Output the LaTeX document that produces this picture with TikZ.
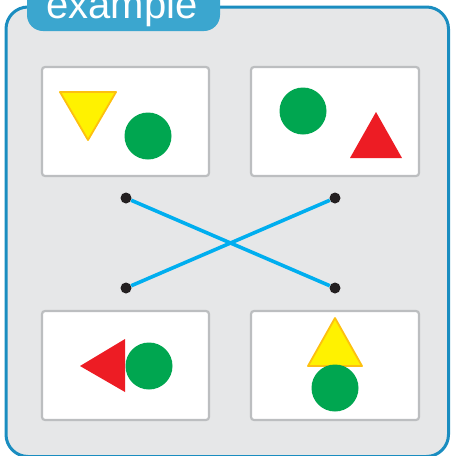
\documentclass[tikz,border=0pt]{standalone}
\usepackage{fontspec}
\setmainfont{Liberation Sans}
\definecolor{panelfill}{HTML}{E6E7E8}
\definecolor{panelline}{HTML}{1A8DC0}
\definecolor{tabfill}{HTML}{3BA6CF}
\definecolor{cardline}{HTML}{BCBEC0}
\definecolor{shgreen}{HTML}{00A650}
\definecolor{shred}{HTML}{ED1C24}
\definecolor{shyellow}{HTML}{FFF200}
\definecolor{shyellowline}{HTML}{FDC010}
\definecolor{linkblue}{HTML}{00AEEF}
\definecolor{dotblack}{HTML}{231F20}
\tikzset{
  card/.style={draw=cardline, line width=2.2pt, fill=white, rounded corners=3pt,
    minimum width=167pt, minimum height=109pt, inner sep=0pt},
  dotnode/.style={circle, fill=dotblack, minimum size=11pt, inner sep=0pt},
  link/.style={draw=linkblue, line width=3.6pt},
  greendisc/.style={fill=shgreen},
  redtri/.style={fill=shred},
  yellowtri/.style={fill=shyellow, draw=shyellowline, line width=1.8pt, line join=round},
}
\begin{document}
\begin{tikzpicture}[x=1pt,y=-1pt]
\useasboundingbox (0,0) rectangle (451,456);
\begin{scope}
\clip (0,0) rectangle (451,456);
\draw[fill=panelfill, draw=panelline, line width=3pt, rounded corners=22pt] (6,7) rectangle (448.5,456.5);
\fill[tabfill, rounded corners=16pt] (27,-30) rectangle (220,31);
\node[anchor=base, text=white, font=\fontsize{40}{48}\selectfont, inner sep=0pt] (title) at (122,18) {example};
\end{scope}
% cards
\node[card] (b1) at (125.5,121.5) {};
\node[card, minimum width=168pt] (b2) at (335,121.5) {};
\node[card] (b3) at (125.5,365.5) {};
\node[card, minimum width=168pt] (b4) at (335,365.5) {};
% card 1
\filldraw[yellowtri] (60,92) -- (116,92) -- (88,140) -- cycle;
\fill[greendisc] (148,136) circle (23.5);
% card 2
\fill[greendisc] (303,111) circle (23.5);
\fill[redtri] (376,112) -- (402,158) -- (350,158) -- cycle;
% card 3
\fill[redtri] (80,366) -- (125,339) -- (125,392) -- cycle;
\fill[greendisc] (149,366) circle (23.5);
% card 4
\filldraw[yellowtri] (335,318) -- (362,366) -- (308,366) -- cycle;
\fill[greendisc] (335,388) circle (23.5);
% dots and links
\node[dotnode] (d1) at (126,198) {};
\node[dotnode] (d2) at (335,198) {};
\node[dotnode] (d3) at (126,288) {};
\node[dotnode] (d4) at (335,288) {};
\draw[link] (d1) -- (d4);
\draw[link] (d3) -- (d2);
\end{tikzpicture}
\end{document}
